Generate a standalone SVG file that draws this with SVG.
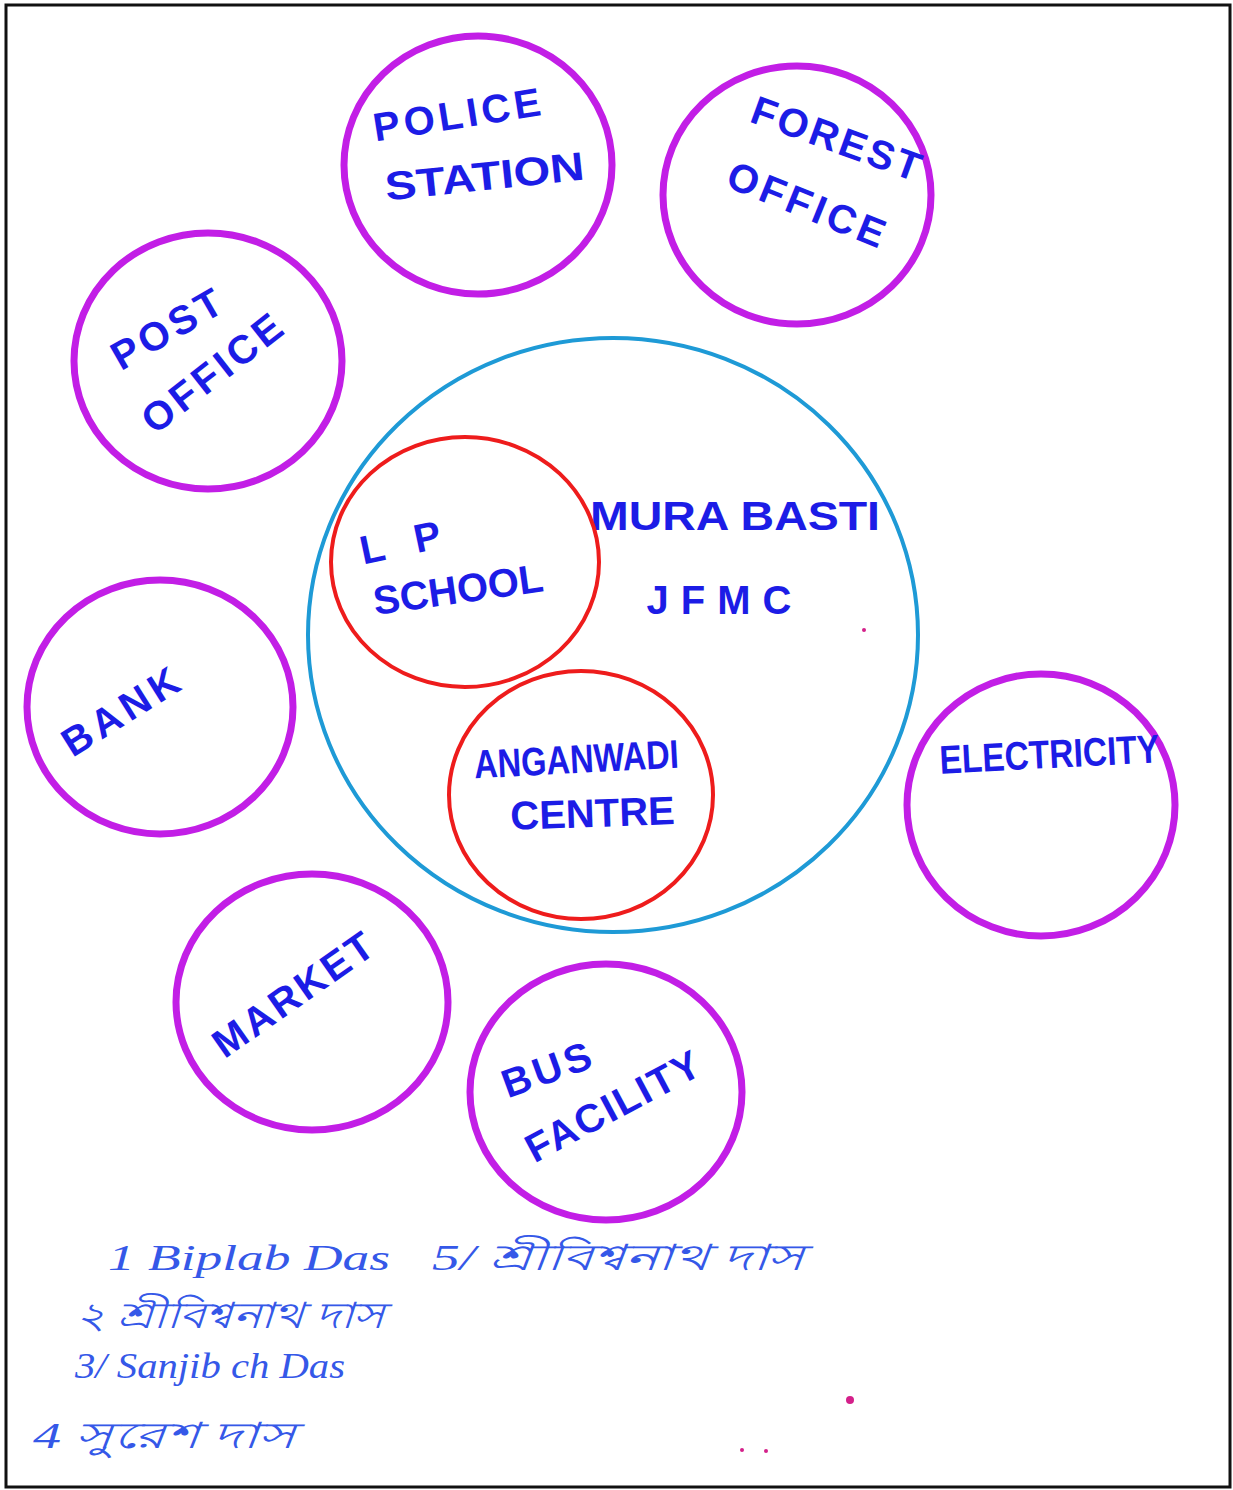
<svg xmlns="http://www.w3.org/2000/svg" width="1233" height="1490" viewBox="0 0 1233 1490">
<style>
.m{fill:none;stroke:#c21ee6;stroke-width:7}
.r{fill:none;stroke:#ee1c1c;stroke-width:4}
.b{fill:none;stroke:#1e9ad6;stroke-width:4}
.t{font-family:"Liberation Sans",Arial,sans-serif;font-weight:bold;fill:#1c1ce6;font-size:40px;text-anchor:middle}
.h{font-family:"Liberation Serif",serif;font-style:italic;fill:#3558e8;font-size:36px}
</style>
<rect x="0" y="0" width="1233" height="1490" fill="#fff"/>
<rect x="6" y="5" width="1224" height="1482" fill="none" stroke="#111" stroke-width="3"/>
<g id="murabasti">
<ellipse class="b" cx="613" cy="635" rx="305" ry="297"/>
<text class="t" x="735" y="530" textLength="290" lengthAdjust="spacingAndGlyphs">MURA BASTI</text>
<text class="t" x="725" y="614" font-size="46" letter-spacing="12">JFMC</text>
</g>
<g id="lpschool">
<ellipse class="r" cx="465" cy="562" rx="134" ry="125"/>
<text class="t" transform="translate(408,555) rotate(-12)" font-size="38" letter-spacing="10">L P</text>
<text class="t" transform="translate(460,603) rotate(-8)" font-size="36">SCHOOL</text>
</g>
<g id="anganwadi">
<ellipse class="r" cx="581" cy="795" rx="132" ry="124"/>
<text class="t" transform="translate(577,773) rotate(-3)" font-size="30" textLength="205" lengthAdjust="spacingAndGlyphs">ANGANWADI</text>
<text class="t" transform="translate(593,827) rotate(-2)" font-size="36">CENTRE</text>
</g>
<g id="police">
<ellipse class="m" cx="478" cy="165" rx="134" ry="129"/>
<text class="t" transform="translate(461,128) rotate(-9)" letter-spacing="4">POLICE</text>
<text class="t" transform="translate(486,190) rotate(-6)" textLength="200" lengthAdjust="spacingAndGlyphs">STATION</text>
</g>
<g id="forest">
<ellipse class="m" cx="797" cy="195" rx="134" ry="129"/>
<text class="t" transform="translate(833,152) rotate(20)" letter-spacing="3">FOREST</text>
<text class="t" transform="translate(803,218) rotate(22)" letter-spacing="4">OFFICE</text>
</g>
<g id="post">
<ellipse class="m" cx="208" cy="361" rx="134" ry="128"/>
<text class="t" transform="translate(175,340) rotate(-30)" letter-spacing="4">POST</text>
<text class="t" transform="translate(222,383) rotate(-38)" letter-spacing="4">OFFICE</text>
</g>
<g id="bank">
<ellipse class="m" cx="160" cy="707" rx="133" ry="127"/>
<text class="t" transform="translate(130,722) rotate(-32)" letter-spacing="5">BANK</text>
</g>
<g id="electricity">
<ellipse class="m" cx="1041" cy="805" rx="134" ry="131"/>
<text class="t" transform="translate(1050,768) rotate(-3)" font-size="34" textLength="220" lengthAdjust="spacingAndGlyphs">ELECTRICITY</text>
</g>
<g id="market">
<ellipse class="m" cx="312" cy="1002" rx="136" ry="128"/>
<text class="t" transform="translate(302,1005) rotate(-35)" letter-spacing="3">MARKET</text>
</g>
<g id="bus">
<ellipse class="m" cx="606" cy="1092" rx="136" ry="128"/>
<text class="t" transform="translate(553,1082) rotate(-20)" letter-spacing="4">BUS</text>
<text class="t" transform="translate(620,1118) rotate(-28)" letter-spacing="2">FACILITY</text>
</g>
<g id="signatures">
<text class="h" x="108" y="1270" textLength="282" lengthAdjust="spacingAndGlyphs">1 Biplab Das</text>
<text class="h" x="432" y="1270" textLength="372" lengthAdjust="spacingAndGlyphs">5/ শ্রীবিশ্বনাথ দাস</text>
<text class="h" x="75" y="1328" textLength="310" lengthAdjust="spacingAndGlyphs">২ শ্রীবিশ্বনাথ দাস</text>
<text class="h" x="75" y="1378" textLength="270" lengthAdjust="spacingAndGlyphs">3/ Sanjib ch Das</text>
<text class="h" x="33" y="1448" textLength="262" lengthAdjust="spacingAndGlyphs">4 সুরেশ দাস</text>
</g>
<g id="specks" fill="#d4208a">
<circle cx="850" cy="1400" r="4"/>
<circle cx="742" cy="1450" r="2"/>
<circle cx="766" cy="1451" r="2"/>
<circle cx="864" cy="630" r="2"/>
</g>
</svg>
